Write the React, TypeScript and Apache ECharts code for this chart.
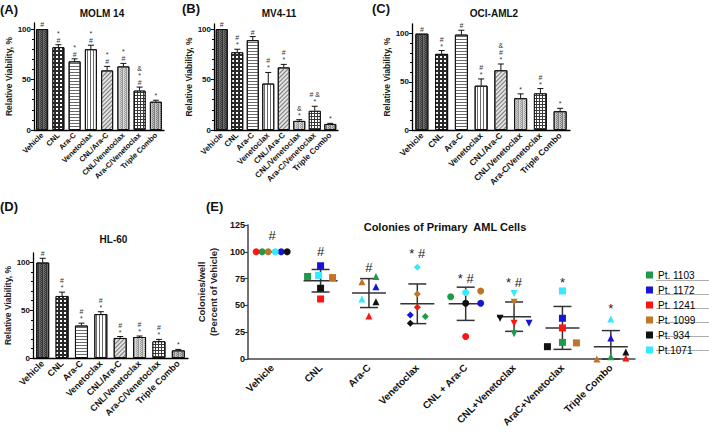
import React, { useEffect, useRef } from 'react';
import * as echarts from 'echarts';

const FONT = 'Liberation Sans, Arial, sans-serif';

// ---- Panels A-D data ----
const barCats = ['Vehicle', 'CNL', 'Ara-C', 'Venetoclax', 'CNL/Ara-C', 'CNL/Venetoclax', 'Ara-C/Venetoclax', 'Triple Combo'];

const molmVals = [100, 82, 68, 80, 59, 63, 39, 28];
const molmErr = [0, 2.5, 2.5, 4, 4, 3, 3.5, 1.5];
const molmMarks = ['#', '*\n#', '*\n#', '*\n#', '*\n#', '*\n#', '&\n*\n#', '*'];

const mv4Vals = [100, 77, 89, 46, 62, 9, 19, 6];
const mv4Err = [0, 3, 3.5, 11, 3, 1.2, 4.5, 0.6];
const mv4Marks = ['#', '#\n*', '#', '#\n*', '#\n*', '&\n*', '# &\n*', '*'];

const ociVals = [100, 79, 99, 46, 62, 33, 38, 19.5];
const ociErr = [0, 3.5, 4.5, 7, 6.5, 4.5, 5, 3];
const ociMarks = ['#', '#\n*', '#', '#\n*', '&\n#\n*', '*', '#\n*', '*'];

const hlVals = [100, 65, 34, 46, 21, 22, 17.5, 8];
const hlErr = [4.5, 4, 2.5, 2.5, 1.5, 1, 2, 1];
const hlMarks = ['#', '#\n*', '#\n*', '#\n*', '#\n*', '#\n*', '#\n*', '*'];

const viabTicks = [0, 50, 100];

// ---- Panel E data ----
const eCats = ['Vehicle', 'CNL', 'Ara-C', 'Venetoclax', 'CNL + Ara-C', 'CNL+Venetoclax', 'AraC+Venetoclax', 'Triple Combo'];
const patients = ['Pt. 1103', 'Pt. 1172', 'Pt. 1241', 'Pt. 1099', 'Pt. 934', 'Pt.1071'];
const pt1103 = [100, 77, 77, 39.6, 58, 23.5, 15.5, 2];
const pt1172 = [100, 87, 67.5, 41, 52, 33.4, 38, 19.6];
const pt1241 = [100, 56, 40, 48.3, 21, 33.4, 29, 1];
const pt1099 = [100, 76, 72, 60.7, 63.5, 53, 15, 0];
const pt934 = [100, 66, 53.5, 33.4, 52, 38, 11.5, 6.5];
const pt1071 = [100, 78, 56, 85.5, 62, 61, 63.5, 37.4];
const eMean = [100, 73, 61.5, 51.5, 51.5, 39.5, 29, 11.5];
const eSd = [0, 10.5, 13.5, 18.5, 15.5, 13.7, 20, 15];
const eMarks = ['#', '#', '#', '* #', '* #', '* #', '*', '*'];
const eMarkY = [115, 100, 85, 98, 75.5, 71, 71, 47.5];

// ---- styles ----
const ptColors = ['#1f9a4a', '#1515d8', '#ff1414', '#c27426', '#111111', '#33eaff'];
const invTri = 'path://M0,0 L10,0 L5,9 Z';
const eSymbols = ['circle', 'rect', 'triangle', 'diamond', 'circle', invTri, 'rect', 'triangle'];
const ptOffsets = [
  [-10, -13, 7, 8, -15, 0, 0, 0],
  [9, 0, 7, -7, 15, 15, 0, 0],
  [-16, 0, 0, 0, 0, 0, 0, 15],
  [-4, 12, -7, 0, 15, 0, 14, -14],
  [15, 0, 7, -7, 0, -14, -15, 15],
  [3, -2, -7, 0, 0, 0, 0, 0],
];

const barFills = ['#6a6a6a', '#2a2a2a', '#ffffff', '#ffffff', '#e2e2e2', '#d6d6d6', '#3a3a3a', '#c4c4c4'];
const barDecals: any[] = [
  { symbol: 'rect', symbolSize: 1, color: '#3a3a3a', dashArrayX: [[1, 1], [0, 1, 1]], dashArrayY: [1, 0] },
  { symbol: 'rect', symbolSize: 1, color: '#ffffff', dashArrayX: [1.5, 1.5], dashArrayY: [1.5, 1.5] },
  { symbol: 'rect', symbolSize: 1, color: '#6a6a6a', dashArrayX: [1, 0], dashArrayY: [1, 2] },
  { symbol: 'rect', symbolSize: 1, color: '#6a6a6a', dashArrayX: [1, 2], dashArrayY: [1, 0] },
  { symbol: 'rect', symbolSize: 1, color: '#7a7a7a', dashArrayX: [1, 0], dashArrayY: [1, 2], rotation: -Math.PI / 4 },
  { symbol: 'rect', symbolSize: 1, color: '#9a9a9a', dashArrayX: [[1, 1], [0, 1, 1]], dashArrayY: [1, 0] },
  { symbol: 'rect', symbolSize: 1, color: '#ffffff', dashArrayX: [2, 1], dashArrayY: [2, 1] },
  { symbol: 'rect', symbolSize: 1, color: '#808080', dashArrayX: [[1, 1], [0, 1, 1]], dashArrayY: [1, 0] },
];

const panels = [
  { title: 'MOLM 14', vals: molmVals, err: molmErr, marks: molmMarks, grid: { left: 34, top: 23, width: 130, height: 107 }, max: 106, lab: 7.5, bw: 12 },
  { title: 'MV4-11', vals: mv4Vals, err: mv4Err, marks: mv4Marks, grid: { left: 214, top: 24, width: 124, height: 106 }, max: 105, lab: 8, bw: 12 },
  { title: 'OCI-AML2', vals: ociVals, err: ociErr, marks: ociMarks, grid: { left: 412, top: 24, width: 158, height: 106 }, max: 110, lab: 8.5, bw: 13 },
  { title: 'HL-60', vals: hlVals, err: hlErr, marks: hlMarks, grid: { left: 33, top: 253, width: 155, height: 105 }, max: 110, lab: 9, bw: 13 },
];

function buildOption() {
  const grid: any[] = [];
  const xAxis: any[] = [];
  const yAxis: any[] = [];
  const series: any[] = [];
  const title: any[] = [];

  panels.forEach((p, gi) => {
    grid.push({ ...p.grid, containLabel: false });
    xAxis.push({
      type: 'category', gridIndex: gi, data: barCats,
      axisLine: { lineStyle: { color: '#000', width: 1.3 } },
      axisTick: { alignWithLabel: true, length: 3, lineStyle: { color: '#000' } },
      axisLabel: { rotate: 45, interval: 0, fontSize: p.lab, fontWeight: 'bold', color: '#111', margin: 4, fontFamily: FONT },
    });
    yAxis.push({
      type: 'value', gridIndex: gi, min: 0, max: p.max, interval: 50,
      axisLine: { show: true, lineStyle: { color: '#000', width: 1.3 } },
      axisTick: { show: true, length: 3, customValues: viabTicks, lineStyle: { color: '#000' } },
      minorTick: { show: true, splitNumber: 5, length: 2, lineStyle: { color: '#000' } },
      axisLabel: { customValues: viabTicks, fontSize: 8, fontWeight: 'bold', color: '#111', margin: 3, fontFamily: FONT },
      splitLine: { show: false },
      name: 'Relative Viability, %', nameLocation: 'middle', nameGap: 18,
      nameTextStyle: { fontSize: 8.5, fontWeight: 'bold', color: '#222', fontFamily: FONT },
    });
    title.push({
      text: p.title, left: p.grid.left + p.grid.width / 2 - 2, top: gi === 3 ? 229 : 3, textAlign: 'center',
      textStyle: { fontSize: 10, fontWeight: 'bold', color: '#111', fontFamily: FONT },
    });
    series.push({
      type: 'bar', xAxisIndex: gi, yAxisIndex: gi, barWidth: p.bw,
      data: p.vals.map((v, i) => ({ value: v, itemStyle: { color: barFills[i], decal: barDecals[i] } })),
      itemStyle: { borderColor: '#111', borderWidth: 1 },
    });
    series.push({
      type: 'custom', xAxisIndex: gi, yAxisIndex: gi, z: 3,
      itemStyle: { color: '#111' },
      data: p.vals.map((v, i) => [i, v, p.err[i]]),
      renderItem: (params: any, api: any) => {
        const i = api.value(0), v = api.value(1), e = api.value(2);
        if (!e) return null;
        const b = api.coord([i, v]);
        const t = api.coord([i, v + e]);
        const st = { stroke: '#111', lineWidth: 1 };
        return {
          type: 'group', children: [
            { type: 'line', shape: { x1: b[0], y1: b[1], x2: t[0], y2: t[1] }, style: st },
            { type: 'line', shape: { x1: t[0] - 3, y1: t[1], x2: t[0] + 3, y2: t[1] }, style: st },
          ],
        };
      },
    });
    series.push({
      type: 'custom', xAxisIndex: gi, yAxisIndex: gi, z: 4,
      itemStyle: { color: '#333' },
      data: p.vals.map((v, i) => [i, v + p.err[i]]),
      renderItem: (params: any, api: any) => {
        const c = api.coord([api.value(0), api.value(1)]);
        return {
          type: 'text', x: c[0], y: c[1] - 1,
          style: { text: p.marks[params.dataIndex], align: 'center', verticalAlign: 'bottom', fontSize: 7, lineHeight: 7, fill: '#333', fontFamily: FONT },
        };
      },
    });
  });

  // Panel E
  const ge = 4;
  grid.push({ left: 248, top: 225, width: 387, height: 134 });
  xAxis.push({
    type: 'category', gridIndex: ge, data: eCats,
    axisLine: { lineStyle: { color: '#444', width: 1.5 } },
    axisTick: { alignWithLabel: true, length: 4, lineStyle: { color: '#444', width: 1.2 } },
    axisLabel: { rotate: 45, interval: 0, fontSize: 10, fontWeight: 'bold', color: '#111', margin: 7, fontFamily: FONT },
  });
  yAxis.push({
    type: 'value', gridIndex: ge, min: 0, max: 125, interval: 25,
    axisLine: { show: true, lineStyle: { color: '#444', width: 1.5 } },
    axisTick: { show: true, length: 4, lineStyle: { color: '#444', width: 1.2 } },
    axisLabel: { fontSize: 9, fontWeight: 'bold', color: '#111', margin: 3, fontFamily: FONT },
    splitLine: { show: false },
    name: 'Colonies/well\n(Percent of Vehicle)', nameLocation: 'middle', nameGap: 24,
    nameTextStyle: { fontSize: 9.5, fontWeight: 'bold', color: '#222', fontFamily: FONT, lineHeight: 12 },
  });
  title.push({
    text: 'Colonies of Primary  AML Cells', left: 440, top: 216, textAlign: 'center',
    textStyle: { fontSize: 11, fontWeight: 'bold', color: '#111', fontFamily: FONT },
  });

  series.push({
    type: 'custom', xAxisIndex: ge, yAxisIndex: ge, z: 2,
    itemStyle: { color: '#333' },
    data: eMean.map((m, i) => [i, m, eSd[i]]),
    renderItem: (params: any, api: any) => {
      const i = api.value(0), m = api.value(1), s = api.value(2);
      const c = api.coord([i, m]);
      const st = { stroke: '#333', lineWidth: 1.5 };
      const ch: any[] = [{ type: 'line', shape: { x1: c[0] - 17, y1: c[1], x2: c[0] + 17, y2: c[1] }, style: st }];
      if (s > 0) {
        const t = api.coord([i, m + s]);
        const b = api.coord([i, Math.max(0, m - s)]);
        ch.push({ type: 'line', shape: { x1: c[0], y1: t[1], x2: c[0], y2: b[1] }, style: st });
        ch.push({ type: 'line', shape: { x1: c[0] - 9, y1: t[1], x2: c[0] + 9, y2: t[1] }, style: st });
        ch.push({ type: 'line', shape: { x1: c[0] - 9, y1: b[1], x2: c[0] + 9, y2: b[1] }, style: st });
      }
      return { type: 'group', children: ch };
    },
  });

  const ptData = [pt1103, pt1172, pt1241, pt1099, pt934, pt1071];
  ptData.forEach((vals, pi) => {
    series.push({
      type: 'scatter', name: patients[pi], xAxisIndex: ge, yAxisIndex: ge, z: 3,
      symbolSize: 7,
      itemStyle: { color: ptColors[pi], opacity: 1 },
      data: vals.map((v, i) => ({ value: [i, v], symbol: eSymbols[i], symbolOffset: [ptOffsets[pi][i], 0] })),
    });
  });

  series.push({
    type: 'custom', xAxisIndex: ge, yAxisIndex: ge, z: 4,
    itemStyle: { color: '#222' },
    data: eMarkY.map((y, i) => [i, y]),
    renderItem: (params: any, api: any) => {
      const c = api.coord([api.value(0), api.value(1)]);
      return {
        type: 'text', x: c[0], y: c[1],
        style: { text: eMarks[params.dataIndex], align: 'center', verticalAlign: 'middle', fontSize: 13, fill: '#222', fontFamily: FONT },
      };
    },
  });

  const letters = [
    { t: '(A)', x: 0, y: 3 }, { t: '(B)', x: 182, y: 2 }, { t: '(C)', x: 372, y: 2 },
    { t: '(D)', x: 0, y: 200 }, { t: '(E)', x: 206, y: 200 },
  ];
  const graphic: any[] = letters.map((l) => ({
    type: 'text', left: l.x, top: l.y,
    style: { text: l.t, fontSize: 13, fontWeight: 'bold', fill: '#111', fontFamily: FONT },
  }));
  patients.forEach((_, i) => {
    graphic.push({ type: 'line', shape: { x1: 656, y1: 280.5 + 14 * i, x2: 709, y2: 280.5 + 14 * i }, style: { stroke: '#999', lineWidth: 0.8 } });
  });

  return {
    animation: false,
    backgroundColor: '#ffffff',
    textStyle: { fontFamily: FONT },
    title, grid, xAxis, yAxis, series, graphic,
    legend: {
      data: patients.map((n) => ({ name: n, icon: 'rect' })),
      orient: 'vertical', left: 646, top: 270, itemWidth: 7, itemHeight: 7, itemGap: 5, padding: 0,
      selectedMode: false,
      textStyle: { fontSize: 10, color: '#000', fontFamily: FONT },
    },
  };
}

export default function App() {
  const ref = useRef<HTMLDivElement>(null);
  useEffect(() => {
    if (!ref.current) return;
    const chart = echarts.init(ref.current, undefined, { renderer: 'svg' });
    chart.setOption(buildOption() as any);
    return () => chart.dispose();
  }, []);
  return <div ref={ref} style={{ position: 'fixed', left: 0, top: 0, width: 709, height: 432, background: '#fff' }} />;
}
